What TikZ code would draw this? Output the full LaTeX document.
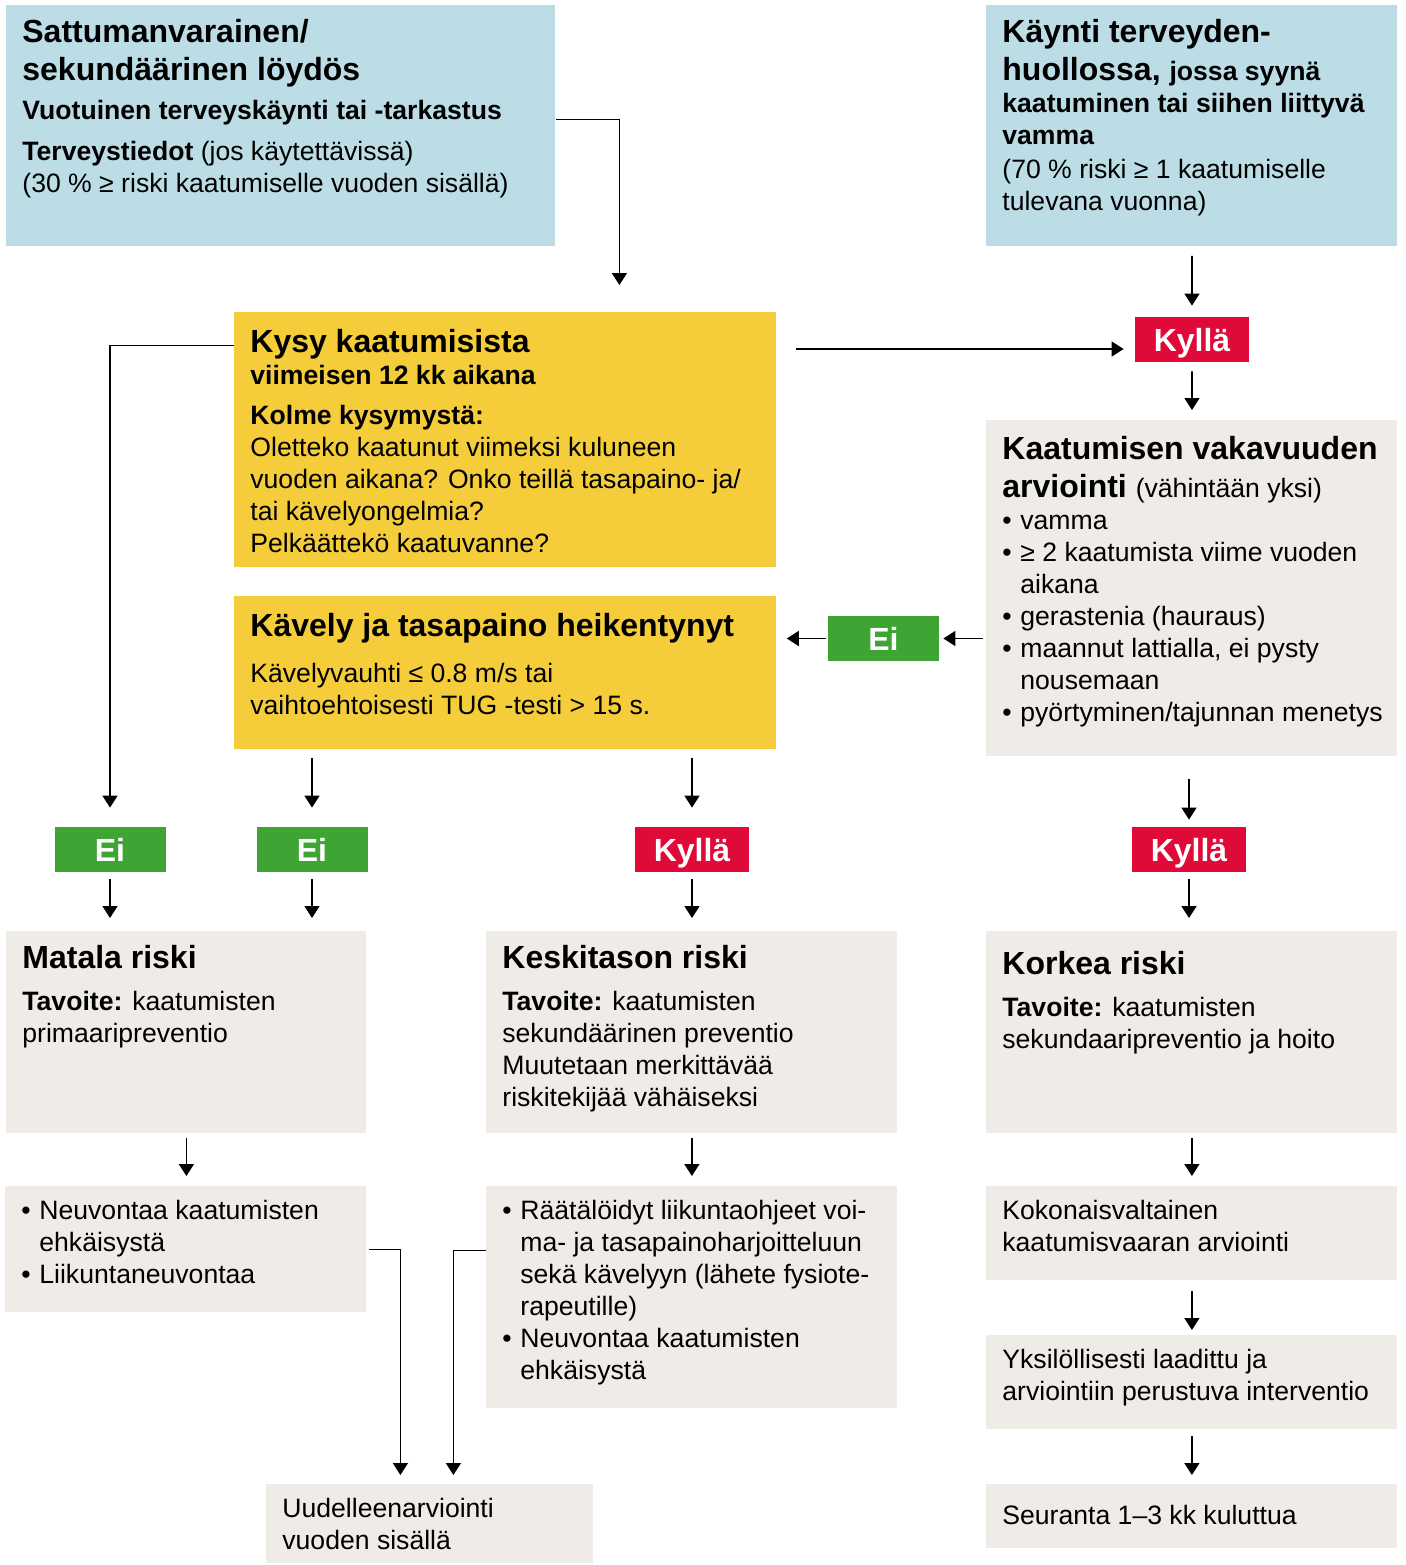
\documentclass[tikz,border=0pt]{standalone}
\usepackage{fontspec}
\setmainfont{Liberation Sans}
\usepackage{tikz}
\usetikzlibrary{positioning,arrows.meta}
\usepackage{xcolor}
\definecolor{skyblue}{HTML}{BCDDE6}
\definecolor{sunyellow}{HTML}{F5CD3A}
\definecolor{paper}{HTML}{EFECE7}
\definecolor{alertred}{HTML}{DF0A37}
\definecolor{okgreen}{HTML}{3EA535}
\newcommand{\ttl}{\fontsize{16}{19}\selectfont\bfseries}
\newcommand{\txt}{\fontsize{13.3}{16}\selectfont}
\newcommand{\bul}{\par\hangindent=9pt\hangafter=1\noindent\makebox[9pt][l]{•}}
\newcommand{\cellbox}[3]{\parbox[t][#2][t]{#1}{\raggedright\txt #3}}

\begin{document}
\begin{tikzpicture}[x=0.5pt,y=-0.5pt]
  \tikzstyle{every node}=[inner sep=0pt]
  \tikzstyle{box}=[anchor=north west, inner xsep=8pt, inner ysep=7pt]
  \tikzstyle{bluebox}=[box, fill=skyblue]
  \tikzstyle{yellowbox}=[box, fill=sunyellow]
  \tikzstyle{greybox}=[box, fill=paper]
  \tikzstyle{badge}=[minimum width=57pt, minimum height=22.5pt, text height=11.5pt, text depth=0pt, text=white, font=\fontsize{16}{19}\selectfont\bfseries]
  \tikzstyle{yesbadge}=[badge, fill=alertred]
  \tikzstyle{nobadge}=[badge, fill=okgreen, minimum width=55.5pt]
  \tikzstyle{arr}=[-{Triangle[width=7.5pt,length=6pt]}, line width=0.8pt, shorten <=4.5pt, shorten >=5.5pt]
  % \draw [step=100, blue!30] (0,0) grid (1405,1565);
  \useasboundingbox (0,0) rectangle (1405,1565);

  \node [bluebox] (n1) at (6,5) {\cellbox{258.5pt}{106.5pt}{%
    {\ttl Sattumanvarainen/\\ sekundäärinen löydös\par}
    \vspace{3.5pt}{\bfseries Vuotuinen terveyskäynti tai -tarkastus\par}
    \vspace{4.5pt}\textbf{Terveystiedot} (jos käytettävissä)\\
    (30 \% ≥ riski kaatumiselle vuoden sisällä)}};
  \node [bluebox] (n2) at (986,5) {\cellbox{189.5pt}{106.5pt}{%
    {\ttl Käynti terveyden-\\ huollossa, {\txt jossa syynä}\par}
    {\bfseries kaatuminen tai siihen liittyvä\\ vamma\par}
    \vspace{1pt}(70 \% riski ≥ 1 kaatumiselle\\ tulevana vuonna)}};
  \node [yellowbox] (n3) at (234,312) {\cellbox{255pt}{113.5pt}{%
    \vspace*{1.5pt}{\ttl Kysy kaatumisista\par}
    {\bfseries viimeisen 12 kk aikana\par}
    \vspace{4pt}\textbf{Kolme kysymystä:}\\
    Oletteko kaatunut viimeksi kuluneen\\
    vuoden aikana? Onko teillä tasapaino- ja/\\
    tai kävelyongelmia?\\
    Pelkäättekö kaatuvanne?}};
  \node [yellowbox] (n4) at (234,596) {\cellbox{255pt}{62.5pt}{%
    \vspace*{1.5pt}{\ttl Kävely ja tasapaino heikentynyt\par}
    \vspace{7pt}Kävelyvauhti ≤ 0.8 m/s tai\\
    vaihtoehtoisesti TUG -testi > 15 s.}};
  \node [yesbadge] (n5) at (1192,339.5) {Kyllä};
  \node [greybox] (n6) at (986,420) {\cellbox{189.5pt}{154pt}{%
    \vspace*{1pt}{\ttl Kaatumisen vakavuuden\\ arviointi {\txt\mdseries (vähintään yksi)}\par}
    \bul vamma
    \bul ≥ 2 kaatumista viime vuoden\newline aikana
    \bul gerastenia (hauraus)
    \bul maannut lattialla, ei pysty\newline nousemaan
    \bul \mbox{pyörtyminen/tajunnan menetys}}};
  \node [nobadge] (n7) at (883.5,638.5) {Ei};
  \node [nobadge] (n8) at (110,849.5) {Ei};
  \node [nobadge] (n9) at (312,849.5) {Ei};
  \node [yesbadge] (n10) at (692,849.5) {Kyllä};
  \node [yesbadge] (n11) at (1189,849.5) {Kyllä};
  \node [greybox] (n12) at (6,931) {\cellbox{164pt}{87pt}{%
    {\ttl Matala riski\par}
    \vspace{5pt}\textbf{Tavoite:} kaatumisten\\ primaaripreventio}};
  \node [greybox] (n13) at (486,931) {\cellbox{189.5pt}{87pt}{%
    {\ttl Keskitason riski\par}
    \vspace{5pt}\textbf{Tavoite:} kaatumisten\\ sekundäärinen preventio\\
    Muutetaan merkittävää\\ riskitekijää vähäiseksi}};
  \node [greybox] (n14) at (986,931) {\cellbox{189.5pt}{87pt}{%
    \vspace*{3pt}{\ttl Korkea riski\par}
    \vspace{5pt}\textbf{Tavoite:} kaatumisten\\ sekundaaripreventio ja hoito}};
  \node [greybox] (n15) at (5,1186) {\cellbox{164.5pt}{49pt}{%
    \bul Neuvontaa kaatumisten\newline ehkäisystä
    \bul Liikuntaneuvontaa}};
  \node [greybox] (n16) at (486,1186) {\cellbox{189.5pt}{97pt}{%
    \bul Räätälöidyt liikuntaohjeet voi-\newline ma- ja tasapainoharjoitteluun\newline
    sekä kävelyyn (lähete fysiote-\newline rapeutille)
    \bul Neuvontaa kaatumisten\newline ehkäisystä}};
  \node [greybox] (n17) at (986,1186) {\cellbox{189.5pt}{33pt}{%
    Kokonaisvaltainen\\ kaatumisvaaran arviointi}};
  \node [greybox] (n18) at (986,1335) {\cellbox{189.5pt}{33pt}{%
    Yksilöllisesti laadittu ja\\ arviointiin perustuva interventio}};
  \node [greybox] (n19) at (986,1484) {\cellbox{189.5pt}{18pt}{%
    \vspace*{3.5pt}Seuranta 1–3 kk kuluttua}};
  \node [greybox] (n20) at (266,1484) {\cellbox{147.5pt}{25.5pt}{%
    Uudelleenarviointi\\ vuoden sisällä}};

  \coordinate (c1) at ([yshift=-4.75pt]n5.west);

  \draw [arr, shorten <=0pt, shorten >=13.5pt] ([yshift=3.25pt]n1.east) -| ([xshift=57pt]n3.north);
  \draw [arr, shorten <=0pt, shorten >=9.5pt] ([yshift=47.25pt]n3.west) -| (n8.north);
  \draw [arr, shorten <=9.5pt] (n3.east |- c1) -- (c1);
  \draw [arr] (n2) -- (n5);
  \draw [arr, shorten >=5pt] (n5) -- (n6);
  \draw [arr, shorten <=1.5pt, shorten >=2pt] (n6.west |- n7.east) -- (n7.east);
  \draw [arr, shorten <=1pt, shorten >=5pt] (n7.west) -- (n7.west -| n4.east);
  \draw [arr, shorten <=4pt, shorten >=9.5pt] (n4.south -| n9.north) -- (n9.north);
  \draw [arr, shorten <=4pt, shorten >=9.5pt] (n4.south -| n10.north) -- (n10.north);
  \draw [arr, shorten <=11pt, shorten >=3.5pt] (n6.south -| n11.north) -- (n11.north);
  \draw [arr, shorten <=3.5pt, shorten >=6.5pt] (n8.south) -- (n8.south |- n12.north);
  \draw [arr, shorten <=3.5pt, shorten >=6.5pt] (n9.south) -- (n9.south |- n12.north);
  \draw [arr, shorten <=3.5pt, shorten >=6.5pt] (n10.south) -- (n10.south |- n13.north);
  \draw [arr, shorten <=3.5pt, shorten >=6.5pt] (n11.south) -- (n11.south |- n14.north);
  \draw [arr, shorten <=2pt, shorten >=5pt] (n12.south) -- (n12.south |- n15.north);
  \draw [arr, shorten <=2pt, shorten >=5pt] (n13.south) -- (n13.south |- n16.north);
  \draw [arr, shorten <=2pt, shorten >=5pt] (n14.south) -- (n14.south |- n17.north);
  \draw [arr, shorten <=5pt, shorten >=2.5pt] (n17) -- (n18);
  \draw [arr, shorten <=3pt, shorten >=4.5pt] (n18) -- (n19);
  \draw [arr, shorten <=1pt, shorten >=4.5pt] (n15.east) -| ([xshift=-14.75pt]n20.north);
  \draw [arr, shorten <=0pt, shorten >=4.5pt] ([yshift=23.5pt]n16.west) -| ([xshift=11.75pt]n20.north);
\end{tikzpicture}
\end{document}
